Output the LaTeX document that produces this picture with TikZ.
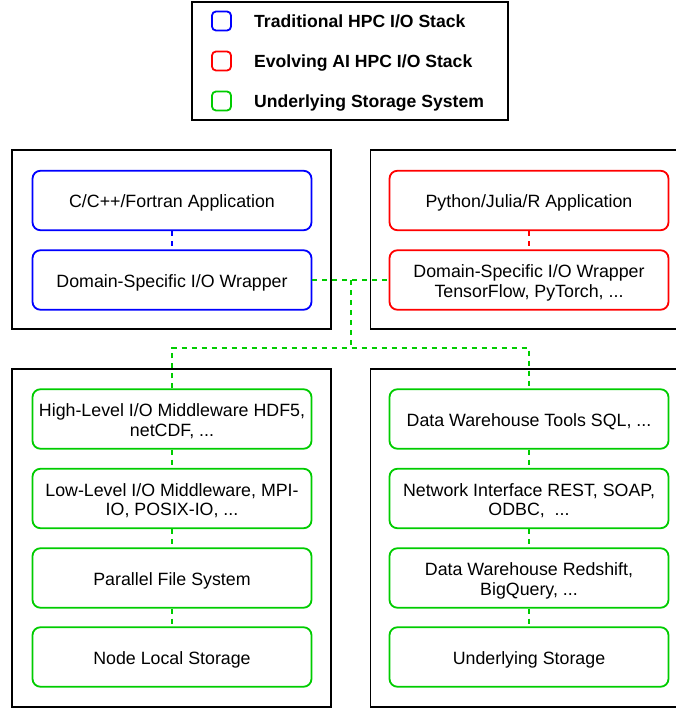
\documentclass[tikz,border=0pt]{standalone}
\usepackage{fontspec}
\setmainfont{Liberation Sans}
\definecolor{hpcblue}{RGB}{0,0,255}
\definecolor{aired}{RGB}{255,0,0}
\definecolor{stgreen}{RGB}{0,204,0}
\newcommand{\lowtxt}[1]{\raisebox{-3.6pt}[\height][\depth]{\begin{tabular}{@{}c@{}}#1\end{tabular}}}
\begin{document}
\begin{tikzpicture}[x=1pt,y=-1pt,
  container/.style={draw=black,line width=1.8pt},
  layer/.style={draw,line width=1.8pt,rounded corners=8pt,minimum width=279pt,minimum height=59.5pt,
    inner sep=0pt,font=\fontsize{17.8}{19.3}\selectfont},
  bluebox/.style={layer,draw=hpcblue},
  redbox/.style={layer,draw=aired},
  greenbox/.style={layer,draw=stgreen},
  icon/.style={draw,line width=1.8pt,rounded corners=4pt,minimum width=19pt,minimum height=19pt,inner sep=0pt},
  legtext/.style={anchor=base west,inner sep=0pt,font=\fontsize{17.6}{20}\selectfont\bfseries},
  dl/.style={dash pattern=on 5pt off 5pt,line width=2pt},
]
\useasboundingbox (0,0) rectangle (676,709);
% legend
\node[draw=black,line width=1.8pt,minimum width=316pt,minimum height=118pt,inner sep=0pt] (legend) at (350,61) {};
\node[icon,draw=hpcblue] (ib) at (221.5,21) {};
\node[icon,draw=aired] (ir) at (221.5,61) {};
\node[icon,draw=stgreen] (ig) at (221.5,101) {};
\node[legtext] (tb) at (254,28) {Traditional HPC I/O Stack};
\node[legtext] (tr) at (254,67.5) {Evolving AI HPC I/O Stack};
\node[legtext] (tg) at (254,107.5) {Underlying Storage System};
% containers
\draw[container] (12,150) rectangle (331,329);
\draw[container] (370.5,150) rectangle (677,329);
\draw[container] (12,369) rectangle (331,707);
\draw[container] (370.5,369) rectangle (677,707);
% top-left stack
\node[bluebox] (capp) at (172,200.5) {\lowtxt{C/C++/Fortran Application}};
\node[bluebox] (lwrap) at (172,280) {\lowtxt{Domain-Specific I/O Wrapper}};
% top-right stack
\node[redbox] (papp) at (529,200.5) {\lowtxt{Python/Julia/R Application}};
\node[redbox] (rwrap) at (529,280) {\lowtxt{Domain-Specific I/O Wrapper\\TensorFlow, PyTorch, ...}};
% bottom-left stack
\node[greenbox] (hl) at (172,419) {\lowtxt{High-Level I/O Middleware HDF5,\\netCDF, ...}};
\node[greenbox] (ll) at (172,498.5) {\lowtxt{Low-Level I/O Middleware, MPI-\\IO, POSIX-IO, ...}};
\node[greenbox] (pfs) at (172,578) {\lowtxt{Parallel File System}};
\node[greenbox] (nls) at (172,657) {\lowtxt{Node Local Storage}};
% bottom-right stack
\node[greenbox] (dwt) at (529,419) {\lowtxt{Data Warehouse Tools SQL, ...}};
\node[greenbox] (ni) at (529,498.5) {\lowtxt{Network Interface REST, SOAP,\\ODBC,\ \ ...}};
\node[greenbox] (dwr) at (529,578) {\lowtxt{Data Warehouse Redshift,\\BigQuery, ...}};
\node[greenbox] (us) at (529,657) {\lowtxt{Underlying Storage}};
% stack connectors
\draw[dl,draw=hpcblue] (capp.south) -- (lwrap.north);
\draw[dl,draw=aired] (papp.south) -- (rwrap.north);
\draw[dl,draw=stgreen] (hl.south) -- (ll.north);
\draw[dl,draw=stgreen] (ll.south) -- (pfs.north);
\draw[dl,draw=stgreen] (pfs.south) -- (nls.north);
\draw[dl,draw=stgreen] (dwt.south) -- (ni.north);
\draw[dl,draw=stgreen] (ni.south) -- (dwr.north);
\draw[dl,draw=stgreen] (dwr.south) -- (us.north);
% cross connector
\coordinate (j1) at (351,280);
\coordinate (j2) at (351,348);
\draw[dl,draw=stgreen] (lwrap.east) -- (rwrap.west);
\draw[dl,draw=stgreen] (j1) -- (j2);
\draw[dl,draw=stgreen] (hl.north) |- (j2) -| (dwt.north);
\end{tikzpicture}
\end{document}
